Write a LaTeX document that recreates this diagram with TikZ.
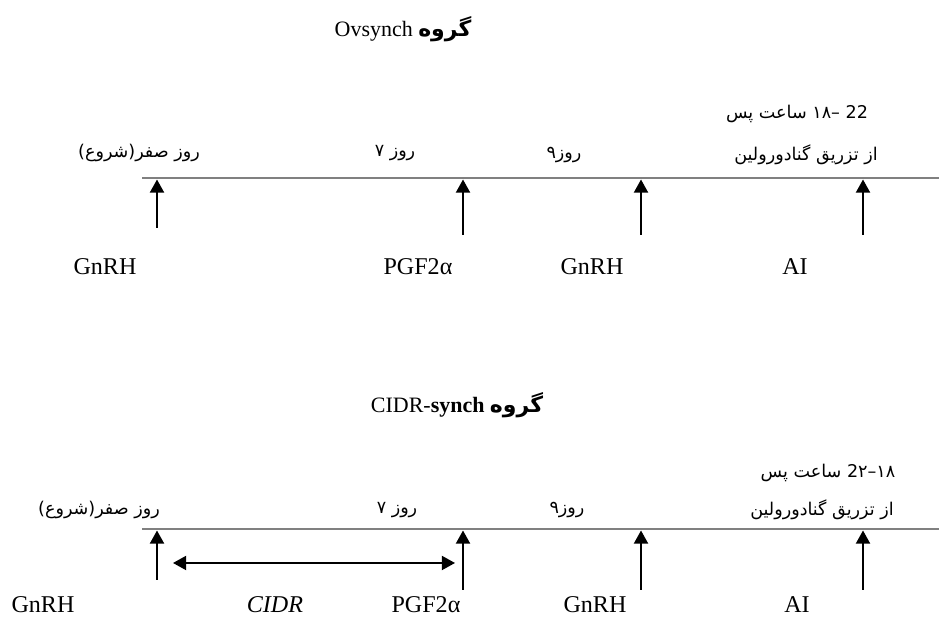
\documentclass[tikz,border=0pt]{standalone}
\usepackage{fontspec}
\setmainfont{Liberation Serif}
\newfontfamily\farsi[Script=Arabic]{DejaVu Sans}
\TeXXeTstate=1
\usetikzlibrary{arrows.meta}

\tikzset{
  axis/.style={draw=gray, line width=1.6pt},
  up/.style={-{Triangle[width=8pt,length=7.5pt]}, line width=1.1pt},
  both/.style={{Triangle[width=8pt,length=7.5pt]}-{Triangle[width=8pt,length=7.5pt]}, line width=1.1pt},
  lab/.style={font=\fontsize{13.7}{16}\selectfont, inner sep=0pt},
  fa/.style={font=\farsi\fontsize{10}{12}\selectfont, inner sep=0pt},
  head/.style={font=\fontsize{12.5}{15}\selectfont, inner sep=0pt}
}

\begin{document}
\begin{tikzpicture}
\useasboundingbox (0,0) rectangle (18.78,12.36);
% Ovsynch
\node[head] (T1) at (8.06,11.78) {\beginR{\farsi\bfseries گروه} \beginL Ovsynch\endL\endR};
\coordinate (L1) at (2.84,8.8);
\coordinate (R1) at (18.78,8.8);
\draw[axis] (L1) -- (R1);
\node[fa] (D1) at (2.78,9.3) {\beginR روز صفر(شروع)\endR};
\node[fa] (E1) at (7.9,9.3) {\beginR روز ۷\endR};
\node[fa] (F1) at (11.28,9.26) {\beginR روز۹\endR};
\node[fa] (H1) at (16.12,9.26) {\beginR از تزریق  گنادورولین\endR};
\node[fa] (K1) at (15.94,10.08) {\beginR\beginL 22\endL{} –۱۸ ساعت پس\endR};
\coordinate (A1) at (3.14,7.8);   \coordinate (A2) at (3.14,8.77);
\coordinate (B1) at (9.26,7.66);  \coordinate (B2) at (9.26,8.77);
\coordinate (C1) at (12.82,7.66); \coordinate (C2) at (12.82,8.77);
\coordinate (M1) at (17.26,7.66); \coordinate (M2) at (17.26,8.77);
\draw[up] (A1) -- (A2);
\draw[up] (B1) -- (B2);
\draw[up] (C1) -- (C2);
\draw[up] (M1) -- (M2);
\node[lab] (G1) at (2.1,7.02) {GnRH};
\node[lab] (P1) at (8.36,7.02) {PGF2α};
\node[lab] (N1) at (11.84,7.02) {GnRH};
\node[lab] (I1) at (15.9,7.02) {AI};
% CIDR-synch
\node[head] (T2) at (9.14,4.26) {\beginR{\farsi\bfseries گروه} \beginL CIDR-\textbf{synch}\endL\endR};
\coordinate (L2) at (2.84,1.78);
\coordinate (R2) at (18.78,1.78);
\draw[axis] (L2) -- (R2);
\node[fa] (D2) at (1.98,2.16) {\beginR روز صفر(شروع)\endR};
\node[fa] (E2) at (7.94,2.16) {\beginR روز ۷\endR};
\node[fa] (F2) at (11.34,2.16) {\beginR روز۹\endR};
\node[fa] (H2) at (16.44,2.16) {\beginR از تزریق  گنادورولین\endR};
\node[fa] (K2) at (16.56,2.9) {\beginR ۱۸–2۲ ساعت پس\endR};
\coordinate (A3) at (3.14,0.76);  \coordinate (A4) at (3.14,1.75);
\coordinate (B3) at (9.26,0.56);  \coordinate (B4) at (9.26,1.75);
\coordinate (C3) at (12.82,0.56); \coordinate (C4) at (12.82,1.75);
\coordinate (M3) at (17.26,0.56); \coordinate (M4) at (17.26,1.75);
\draw[up] (A3) -- (A4);
\draw[up] (B3) -- (B4);
\draw[up] (C3) -- (C4);
\draw[up] (M3) -- (M4);
\coordinate (S1) at (3.46,1.1);
\coordinate (S2) at (9.1,1.1);
\draw[both] (S1) -- (S2);
\node[lab] (G2) at (0.86,0.27) {GnRH};
\node[lab] (X2) at (5.5,0.27) {\textit{CIDR}};
\node[lab] (P2) at (8.52,0.27) {PGF2α};
\node[lab] (N2) at (11.9,0.27) {GnRH};
\node[lab] (I2) at (15.94,0.27) {AI};
\end{tikzpicture}
\end{document}
